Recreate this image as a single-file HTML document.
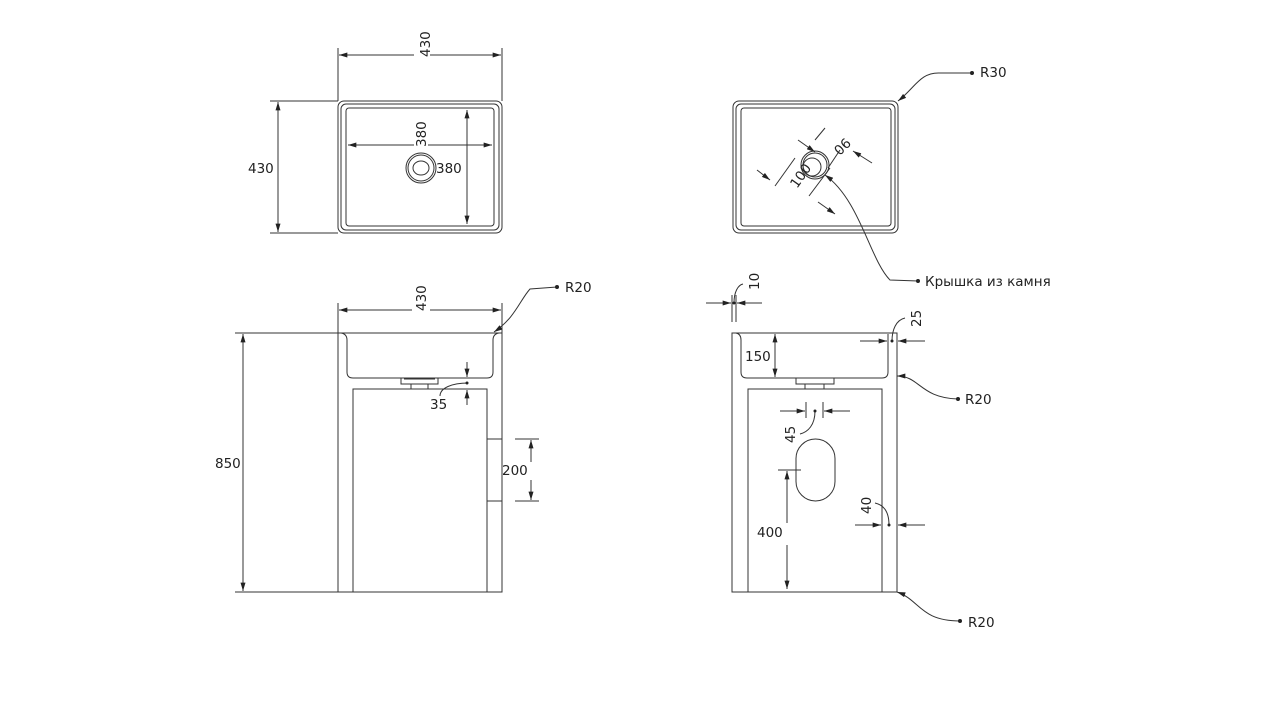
<!DOCTYPE html>
<html><head><meta charset="utf-8"><style>
html,body{margin:0;padding:0;background:#fff}
svg{display:block}
text{font-family:"DejaVu Sans","Liberation Sans",sans-serif;font-size:13.5px;fill:#222}
</style></head><body>
<svg width="1280" height="720" viewBox="0 0 1280 720" xmlns="http://www.w3.org/2000/svg">
<defs>
<marker id="a" viewBox="0 0 10 6" refX="10" refY="3" markerWidth="9" markerHeight="5" orient="auto-start-reverse"><path d="M0,0L10,3L0,6z" fill="#222"/></marker>
</defs>
<g stroke="#333" stroke-width="1" fill="none">
<rect x="338" y="101" width="164" height="132" rx="6"/>
<rect x="341" y="104" width="158" height="126" rx="5"/>
<rect x="346" y="108" width="148" height="118" rx="3"/>
<circle cx="421" cy="168" r="15"/><circle cx="421" cy="168" r="13"/>
<ellipse cx="421" cy="168" rx="8" ry="7"/>
<line x1="338" y1="48" x2="338" y2="101"/><line x1="502" y1="48" x2="502" y2="101"/>
<line x1="339" y1="55" x2="414" y2="55" marker-start="url(#a)"/><line x1="430" y1="55" x2="501" y2="55" marker-end="url(#a)"/>
<line x1="270" y1="101" x2="338" y2="101"/><line x1="270" y1="233" x2="338" y2="233"/>
<line x1="278" y1="102" x2="278" y2="232" marker-start="url(#a)" marker-end="url(#a)"/>
<line x1="348" y1="145" x2="414" y2="145" marker-start="url(#a)"/><line x1="428" y1="145" x2="492" y2="145" marker-end="url(#a)"/>
<line x1="467" y1="110" x2="467" y2="224" marker-start="url(#a)" marker-end="url(#a)"/>

<rect x="733" y="101" width="165" height="132" rx="6"/>
<rect x="736" y="104" width="159" height="126" rx="5"/>
<rect x="741" y="108" width="150" height="118" rx="3"/>
<circle cx="815" cy="165" r="14"/><circle cx="815" cy="165" r="12"/>
<circle cx="812" cy="167" r="9"/>
<line x1="775" y1="186" x2="795" y2="158"/><line x1="809" y1="196" x2="830" y2="168"/>
<line x1="757" y1="170" x2="770" y2="180" marker-end="url(#a)"/><line x1="835" y1="214" x2="818" y2="202" marker-start="url(#a)"/>
<line x1="798" y1="140" x2="815" y2="152" marker-end="url(#a)"/><line x1="815" y1="140" x2="825" y2="128"/>
<line x1="828" y1="168" x2="840" y2="150"/><line x1="872" y1="163" x2="853" y2="151" marker-end="url(#a)"/>
<path d="M898,101 C915,88 920,72 940,73 L972,73" marker-start="url(#a)"/>
<path d="M825,175 C860,200 870,260 890,280 L918,281" marker-start="url(#a)"/>

<path d="M338,592 L338,333 L502,333 L502,592 Z"/>
<path d="M341,333 Q347,334 347,340 L347,372 Q347,378 353,378 L487,378 Q493,378 493,372 L493,340 Q493,334 499,333"/>
<rect x="401" y="378" width="37" height="6"/>
<path d="M404,379 L435,379"/>
<path d="M411,384 L411,389 M428,384 L428,389"/>
<rect x="353" y="389" width="134" height="203"/>
<line x1="487" y1="439" x2="502" y2="439"/><line x1="487" y1="501" x2="502" y2="501"/>
<line x1="515" y1="439" x2="539" y2="439"/><line x1="515" y1="501" x2="539" y2="501"/>
<line x1="531" y1="440" x2="531" y2="462" marker-start="url(#a)"/><line x1="531" y1="480" x2="531" y2="500" marker-end="url(#a)"/>
<line x1="235" y1="333" x2="338" y2="333"/><line x1="235" y1="592" x2="338" y2="592"/>
<line x1="243" y1="334" x2="243" y2="591" marker-start="url(#a)" marker-end="url(#a)"/>
<line x1="467" y1="362" x2="467" y2="377" marker-end="url(#a)"/><line x1="467" y1="405" x2="467" y2="390" marker-end="url(#a)"/>
<path d="M440,396 C440,388 452,383 468,383"/>
<line x1="338" y1="303" x2="338" y2="333"/><line x1="502" y1="303" x2="502" y2="333"/>
<line x1="339" y1="310" x2="412" y2="310" marker-start="url(#a)"/><line x1="430" y1="310" x2="501" y2="310" marker-end="url(#a)"/>
<path d="M494,332 C515,318 520,300 530,289 L557,287" marker-start="url(#a)"/>

<path d="M732,592 L732,333 L897,333 L897,592 Z"/>
<path d="M736,333 Q741,334 741,340 L741,372 Q741,378 747,378 L882,378 Q888,378 888,372 L888,334"/>
<rect x="796" y="378" width="38" height="6"/>
<path d="M805,384 L805,389 M824,384 L824,389"/>
<rect x="748" y="389" width="134" height="203"/>
<rect x="796" y="439" width="39" height="62" rx="19.5"/>
<line x1="732" y1="295" x2="732" y2="322"/><line x1="736" y1="295" x2="736" y2="322"/>
<line x1="706" y1="303" x2="731" y2="303" marker-end="url(#a)"/><line x1="762" y1="303" x2="737" y2="303" marker-end="url(#a)"/>
<path d="M734,303 C734,292 738,285 743,284"/>
<line x1="775" y1="334" x2="775" y2="377" marker-start="url(#a)" marker-end="url(#a)"/>
<line x1="860" y1="341" x2="887" y2="341" marker-end="url(#a)"/><line x1="925" y1="341" x2="898" y2="341" marker-end="url(#a)"/>
<path d="M892,341 C892,330 896,320 905,318"/>
<path d="M897,376 C920,376 920,398 958,399" marker-start="url(#a)"/>
<line x1="806" y1="402" x2="806" y2="418"/><line x1="823" y1="402" x2="823" y2="418"/>
<line x1="780" y1="411" x2="805" y2="411" marker-end="url(#a)"/><line x1="850" y1="411" x2="824" y2="411" marker-end="url(#a)"/>
<path d="M815,411 C815,425 808,432 800,434"/>
<line x1="778" y1="470" x2="801" y2="470"/>
<line x1="787" y1="471" x2="787" y2="523" marker-start="url(#a)"/><line x1="787" y1="545" x2="787" y2="589" marker-end="url(#a)"/>
<line x1="855" y1="525" x2="881" y2="525" marker-end="url(#a)"/><line x1="925" y1="525" x2="898" y2="525" marker-end="url(#a)"/>
<path d="M889,525 C889,512 884,505 875,503"/>
<path d="M897,592 C920,600 920,621 960,621" marker-start="url(#a)"/>
</g>
<g fill="#222">
<circle cx="972" cy="73" r="2"/><circle cx="918" cy="281" r="2"/><circle cx="557" cy="287" r="2"/>
<circle cx="958" cy="399" r="2"/><circle cx="960" cy="621" r="2"/>
<circle cx="467" cy="383" r="1.5"/><circle cx="815" cy="411" r="1.5"/><circle cx="889" cy="525" r="1.5"/><circle cx="892" cy="341" r="1.5"/><circle cx="734" cy="303" r="1.5"/>
</g>
<text transform="translate(430,57) rotate(-90)">430</text>
<text x="248" y="173">430</text>
<text transform="translate(426,147) rotate(-90)">380</text>
<text x="436" y="173">380</text>
<text transform="translate(845,137) rotate(135)" font-size="12">90</text>
<text transform="translate(797,189) rotate(-55)" font-size="12">100</text>
<text x="980" y="77">R30</text>
<text x="925" y="286">Крышка из камня</text>
<text transform="translate(426,311) rotate(-90)">430</text>
<text x="565" y="292">R20</text>
<text x="215" y="468">850</text>
<text x="502" y="475">200</text>
<text x="430" y="409">35</text>
<text transform="translate(759,290) rotate(-90)" font-size="12">10</text>
<text x="745" y="361">150</text>
<text transform="translate(921,327) rotate(-90)" font-size="12">25</text>
<text x="965" y="404">R20</text>
<text transform="translate(795,443) rotate(-90)">45</text>
<text x="757" y="537">400</text>
<text transform="translate(871,514) rotate(-90)" font-size="12">40</text>
<text x="968" y="627">R20</text>
</svg>
</body></html>
